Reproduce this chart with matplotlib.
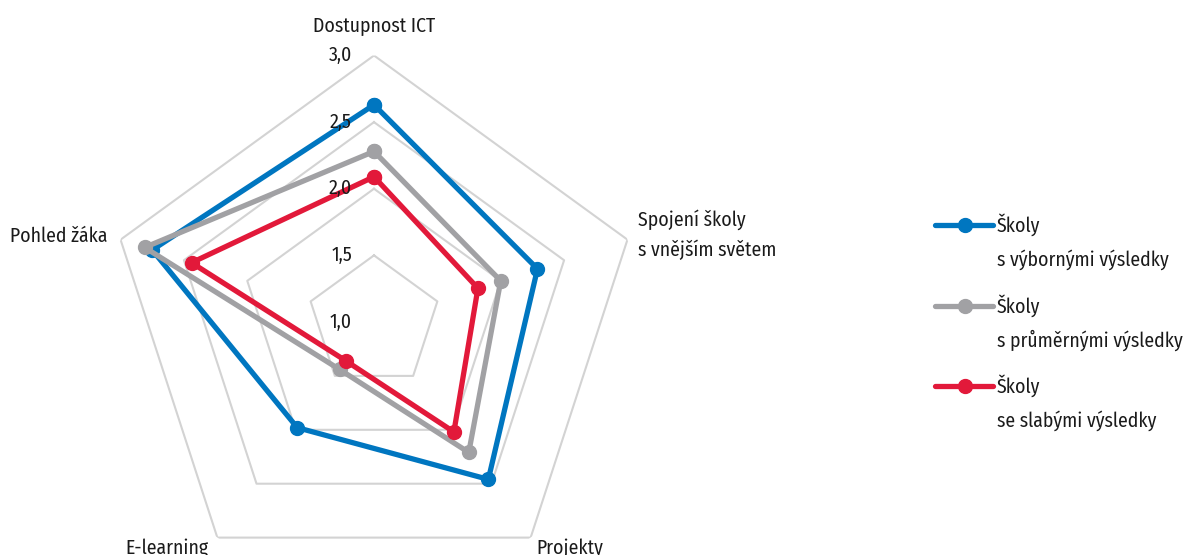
import numpy as np
import matplotlib
matplotlib.use("Agg")
import matplotlib.pyplot as plt

plt.rcParams['font.family'] = ['Fira Sans Condensed', 'PT Sans Narrow', 'DejaVu Sans']

categories = ["Dostupnost ICT", "Spojení školy\ns vnějším světem", "Projekty", "E-learning", "Pohled žáka"]
vyborne = [2.63, 2.29, 2.46, 1.98, 2.75]
prumerne = [2.28, 2.00, 2.21, 1.44, 2.81]
slabe = [2.09, 1.82, 2.02, 1.36, 2.44]
series_names = ["Školy\ns výbornými výsledky", "Školy\ns průměrnými výsledky", "Školy\nse slabými výsledky"]
colors = ["#0076c0", "#a1a1a4", "#e2193a"]
grid_levels = [1.5, 2.0, 2.5, 3.0]
tick_levels = [1.0, 1.5, 2.0, 2.5, 3.0]
tick_labels = ["1,0", "1,5", "2,0", "2,5", "3,0"]

W, H = 1185, 555
FS = 14.2
fig = plt.figure(figsize=(W / 100, H / 100), dpi=100)

# polar axes centred at (374, 322) px with radius 266.5 px
cx, cy, R = 374, 322, 266.5
ax = fig.add_axes([(cx - R) / W, (H - cy - R) / H, 2 * R / W, 2 * R / H], projection='polar')
ax.set_theta_offset(np.pi / 2)
ax.set_theta_direction(-1)
ax.set_rlim(1.0, 3.0)
ax.grid(False)
ax.spines['polar'].set_visible(False)
ax.set_xticks([])
ax.set_yticks([])
ax.patch.set_alpha(0)

n = len(categories)
angles = np.linspace(0, 2 * np.pi, n, endpoint=False)
closed = np.append(angles, angles[0])

for v in grid_levels:
    ax.plot(closed, [v] * (n + 1), color="#d3d3d3", lw=1.5, zorder=1)

for vals, col in zip([vyborne, prumerne, slabe], colors):
    ax.plot(closed, vals + vals[:1], color=col, lw=3.8, marker='o', markersize=10,
            zorder=3, clip_on=False)

# radial tick labels left of the top axis
for v, lab in zip(tick_levels, tick_labels):
    ax.annotate(lab, xy=(0, v), xytext=(-22, 0), textcoords='offset pixels',
                ha='right', va='center', fontsize=FS, color='#1a1a1a', annotation_clip=False)

# category labels
label_pos = [((0, 29), 'center', 'center'),
             ((11, 5), 'left', 'center'),
             ((6, -1), 'left', 'top'),
             ((-9, -1), 'right', 'top'),
             ((-13, 3), 'right', 'center')]
for ang, lab, (off, ha, va) in zip(angles, categories, label_pos):
    ax.annotate(lab, xy=(ang, 3.0), xytext=off, textcoords='offset pixels',
                ha=ha, va=va, fontsize=FS, color='#1a1a1a', linespacing=1.6,
                annotation_clip=False)

# legend drawn on a pixel-based overlay
lax = fig.add_axes([0, 0, 1, 1])
lax.set_xlim(0, W)
lax.set_ylim(H, 0)
lax.axis('off')
lax.patch.set_alpha(0)
for i, (name, col) in enumerate(zip(series_names, colors)):
    y = 225 + i * 80.5
    lax.plot([935, 993], [y, y], color=col, lw=3.8, solid_capstyle='round')
    lax.plot([965], [y], 'o', color=col, markersize=10)
    first, second = name.split("\n")
    lax.text(997, y, first, ha='left', va='center', fontsize=FS, color='#1a1a1a')
    lax.text(997, y + 35, second, ha='left', va='center', fontsize=FS, color='#1a1a1a')

fig.savefig("out.png", dpi=100)
